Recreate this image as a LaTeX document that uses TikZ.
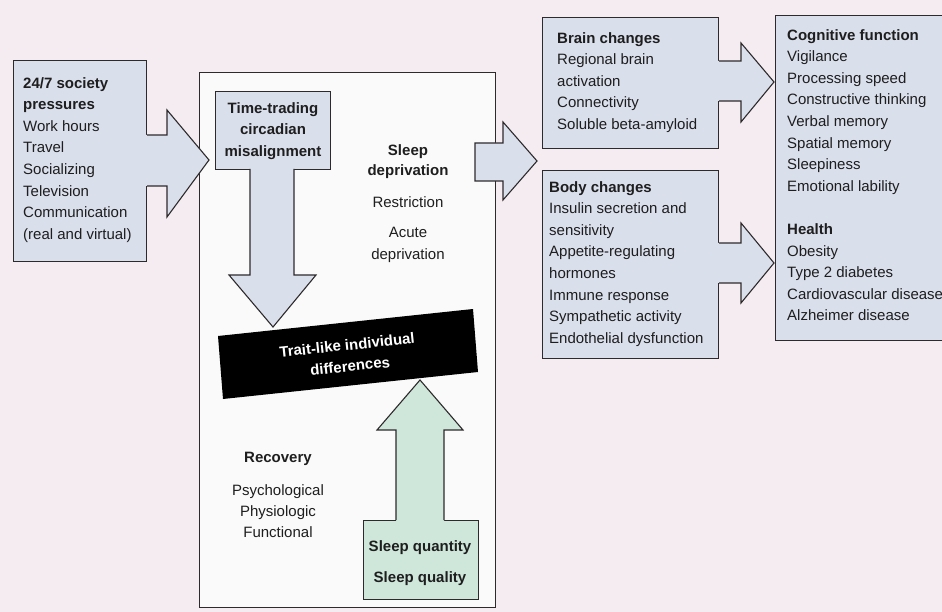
\documentclass[tikz,border=0pt]{standalone}
\usepackage{fontspec}
\setmainfont{Liberation Sans}
\definecolor{paper}{HTML}{F5ECF1}
\definecolor{boxblue}{HTML}{DADFEC}
\definecolor{boxgreen}{HTML}{CFE7DB}
\definecolor{linec}{HTML}{2E2A2C}
\definecolor{ink}{HTML}{1E1E1E}
\tikzset{
  panel/.style={draw=linec, line width=1.1pt, fill=boxblue, inner sep=0pt, anchor=north west},
  edge/.style={draw=linec, line width=1.1pt, line join=miter},
  txt/.style={inner sep=0pt, align=left, anchor=north west, text=ink,
    font=\fontsize{15}{21.6}\selectfont},
  ctxt/.style={inner sep=0pt, align=center, anchor=north, text=ink,
    font=\fontsize{15}{21.6}\selectfont},
  bandtxt/.style={inner sep=0pt, text=white, rotate=6,
    font=\bfseries\fontsize{15}{20}\selectfont},
}
\begin{document}
\begin{tikzpicture}[x=1pt, y=-1pt]
\useasboundingbox (0,0) rectangle (942,612);
\clip (0,0) rectangle (942,612);
\fill[paper] (0,0) rectangle (942,612);

% ---- outer panels ----
\node[panel, minimum width=133pt, minimum height=201pt] (society) at (13,60) {};
\node[panel, fill=white!98!black, minimum width=296pt, minimum height=535pt] (core) at (199,72) {};
\node[panel, minimum width=176pt, minimum height=131pt] (brain) at (542,17) {};
\node[panel, minimum width=176pt, minimum height=188pt] (body) at (542,170) {};
\node[panel, minimum width=190pt, minimum height=325pt] (outcome) at (775,15) {};

% ---- arrow: society -> core ----
\fill[boxblue] (144,135) -- (167,135) -- (167,110) -- (209,160) -- (167,217) -- (167,186) -- (144,186) -- cycle;
\draw[edge] (society.east |- 0,135) -- (167,135) -- (167,110) -- (209,160) -- (167,217) -- (167,186) -- (society.east |- 0,186);

% ---- time-trading box with downward arrow ----
\node[panel, minimum width=115pt, minimum height=78pt] (trade) at (215,91) {};
\fill[boxblue] (250,167) -- (250,275) -- (229,275) -- (273,327) -- (316,275) -- (294,275) -- (294,167) -- cycle;
\draw[edge] (250,169) -- (250,275) -- (229,275) -- (273,327) -- (316,275) -- (294,275) -- (294,169);

% ---- sleep box with upward arrow ----
\node[panel, fill=boxgreen, minimum width=115pt, minimum height=79pt] (sleepq) at (363,520) {};
\fill[boxgreen] (396,522) -- (396,430) -- (377,430) -- (420,380) -- (463,430) -- (444,430) -- (444,522) -- cycle;
\draw[edge] (396,520) -- (396,430) -- (377,430) -- (420,380) -- (463,430) -- (444,430) -- (444,520);

% ---- black band ----
\fill[black] (218,336) -- (473,309) -- (478,372) -- (223,399) -- cycle;
\node[bandtxt] (trait1) at (347,345) {Trait-like individual};
\node[bandtxt] (trait2) at (350,366) {differences};

% ---- arrow: core -> brain/body ----
\draw[edge, fill=boxblue] (475,143) -- (503,143) -- (503,122) -- (537,161) -- (503,200) -- (503,181) -- (475,181) -- cycle;

% ---- arrows: brain/body -> outcome ----
\fill[boxblue] (716,61) -- (741,61) -- (741,43) -- (774,82) -- (741,122) -- (741,101) -- (716,101) -- cycle;
\draw[edge] (brain.east |- 0,61) -- (741,61) -- (741,43) -- (774,82) -- (741,122) -- (741,101) -- (brain.east |- 0,101);
\fill[boxblue] (716,243) -- (741,243) -- (741,223) -- (774,263) -- (741,303) -- (741,283) -- (716,283) -- cycle;
\draw[edge] (body.east |- 0,243) -- (741,243) -- (741,223) -- (774,263) -- (741,303) -- (741,283) -- (body.east |- 0,283);

% ---- texts ----
\node[txt] (tsociety) at (23,77) {\textbf{24/7 society}\\\textbf{pressures}\\Work hours\\Travel\\Socializing\\Television\\Communication\\(real and virtual)};
\node[ctxt, font=\bfseries\fontsize{15}{21.6}\selectfont] (ttrade) at (273,102) {Time-trading\\circadian\\misalignment};
\node[ctxt, font=\bfseries\fontsize{15}{20}\selectfont] (tdep) at (408,144) {Sleep\\deprivation};
\node[ctxt] (trestr) at (408,196) {Restriction};
\node[ctxt, font=\fontsize{15}{22}\selectfont] (tacute) at (408,227) {Acute\\deprivation};
\node[ctxt, font=\bfseries\fontsize{15}{21.6}\selectfont] (trec) at (278,452) {Recovery};
\node[ctxt, font=\fontsize{15}{21}\selectfont] (trec2) at (278,484) {Psychological\\Physiologic\\Functional};
\node[ctxt, font=\bfseries\fontsize{15}{31}\selectfont] (tsleep) at (420,540) {Sleep quantity\\Sleep quality};
\node[txt] (tbrain) at (557,32) {\textbf{Brain changes}\\Regional brain\\activation\\Connectivity\\Soluble beta-amyloid};
\node[txt] (tbody) at (549,181) {\textbf{Body changes}\\Insulin secretion and\\sensitivity\\Appetite-regulating\\hormones\\Immune response\\Sympathetic activity\\Endothelial dysfunction};
\node[txt] (tout) at (787,29) {\textbf{Cognitive function}\\Vigilance\\Processing speed\\Constructive thinking\\Verbal memory\\Spatial memory\\Sleepiness\\Emotional lability\\[21.6pt]\textbf{Health}\\Obesity\\Type 2 diabetes\\Cardiovascular disease\\Alzheimer disease};
\end{tikzpicture}
\end{document}
